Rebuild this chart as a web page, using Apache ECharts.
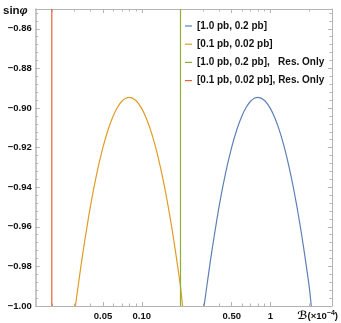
<!DOCTYPE html>
<html>
<head>
<meta charset="utf-8">
<script src="https://cdn.jsdelivr.net/npm/echarts@6/dist/echarts.min.js"></script>
<style>
  html, body { margin: 0; padding: 0; background: #fff; }
  #chart { width: 341px; height: 323px; }
</style>
</head>
<body>
<div id="chart"></div>
<script>
  // axis ranges (x is a log axis, drawn on log10 values)
  const xMin = 0.015, xMax = 3;
  const yMin = -1.0, yMax = -0.85;
  const xLabelValues = [0.05, 0.1, 0.5, 1];
  const xLabelTexts = ['0.05', '0.10', '0.50', '1'];
  const xMinorValues = [0.02, 0.03, 0.04, 0.06, 0.07, 0.08, 0.09, 0.2, 0.3, 0.4, 0.6, 0.7, 0.8, 0.9, 2, 3];

  const seriesNames = ['[1.0 pb, 0.2 pb]', '[0.1 pb, 0.02 pb]', '[1.0 pb, 0.2 pb],   Res. Only', '[0.1 pb, 0.02 pb], Res. Only'];
  const colors = ['#5E81B5', '#E19C24', '#8FB032', '#EB6235'];

  // [1.0 pb, 0.2 pb]
  const blueB = [0.305, 0.33, 0.35, 0.4, 0.45, 0.5, 0.55, 0.6, 0.65, 0.7, 0.75, 0.8, 0.9, 1.0, 1.1, 1.2, 1.3, 1.4, 1.5, 1.6, 1.7, 1.8, 1.9, 2.0, 2.075];
  const blueS = [-1.000, -0.984, -0.9725, -0.9493, -0.9323, -0.9198, -0.9106, -0.9040, -0.8995, -0.8966, -0.8951, -0.8946, -0.8962, -0.9003, -0.9062, -0.9133, -0.9214, -0.9303, -0.9396, -0.9493, -0.9593, -0.9695, -0.9799, -0.9902, -1.000];
  // [0.1 pb, 0.02 pb]
  const orangeB = [0.0305, 0.033, 0.035, 0.04, 0.045, 0.05, 0.055, 0.06, 0.065, 0.07, 0.075, 0.08, 0.09, 0.10, 0.11, 0.12, 0.13, 0.14, 0.15, 0.16, 0.17, 0.18, 0.19, 0.20, 0.2075];
  const orangeS = [-1.000, -0.984, -0.9725, -0.9493, -0.9323, -0.9198, -0.9106, -0.9040, -0.8995, -0.8966, -0.8951, -0.8946, -0.8962, -0.9003, -0.9062, -0.9133, -0.9214, -0.9303, -0.9396, -0.9493, -0.9593, -0.9695, -0.9799, -0.9902, -1.000];
  // Res. Only bounds are vertical lines
  const resOnlyB = [0.2, 0.02];

  const lg = v => Math.log10(v);
  const toPairs = (bs, ss) => bs.map((b, i) => [lg(b), ss[i]]);
  const vline = b => [[lg(b), yMin], [lg(b), yMax]];

  const frameColor = '#b4b4b4';
  const labelFont = { color: '#111', fontSize: 9.5, fontWeight: 'bold', fontFamily: 'Liberation Sans' };

  function xAxisBase(pos) {
    return {
      type: 'value', position: pos, min: lg(xMin), max: lg(xMax),
      axisLine: { show: false, onZero: false }, axisLabel: { show: false }, splitLine: { show: false },
      axisTick: { show: false }
    };
  }
  function yAxisBase(pos, interval) {
    return {
      type: 'value', position: pos, min: yMin, max: yMax, interval: interval,
      axisLine: { show: false, onZero: false }, axisLabel: { show: false }, splitLine: { show: false },
      axisTick: { show: false }
    };
  }

  const chart = echarts.init(document.getElementById('chart'));
  const option = {
    animation: false,
    color: colors,
    grid: { left: 35, right: 8.5, top: 9, bottom: 17 },
    legend: {
      orient: 'vertical', left: 185, top: 20, padding: 0,
      itemWidth: 7, itemHeight: 1.2, itemGap: 6.2, icon: 'rect',
      textStyle: { color: '#111', fontSize: 10, fontWeight: 'bold', fontFamily: 'Liberation Sans', lineHeight: 12 },
      data: seriesNames
    },
    xAxis: [
      Object.assign(xAxisBase('bottom'), {
        axisLine: { show: true, onZero: false, lineStyle: { color: frameColor } },
        axisTick: { show: true, inside: true, length: 4, customValues: xLabelValues.map(lg), lineStyle: { color: frameColor } },
        axisLabel: Object.assign({
          show: true, margin: 5, customValues: xLabelValues.map(lg),
          formatter: v => {
            let best = 0;
            xLabelValues.forEach((t, i) => { if (Math.abs(lg(t) - v) < Math.abs(lg(xLabelValues[best]) - v)) best = i; });
            return xLabelTexts[best];
          }
        }, labelFont),
        name: '{s|ℬ}(×10{sup|−4})',
        nameLocation: 'end', nameGap: -34.5,
        nameTextStyle: {
          align: 'left', verticalAlign: 'top', padding: [4, 0, 0, 0],
          color: '#111', fontSize: 9.5, fontWeight: 'bold', fontFamily: 'Liberation Sans',
          rich: {
            s: { fontSize: 11, fontFamily: 'DejaVu Sans', color: '#111', fontWeight: 'bold' },
            sup: { fontSize: 7, verticalAlign: 'top', padding: [0, 0, 5, 0], color: '#111', fontWeight: 'bold', fontFamily: 'Liberation Sans' }
          }
        }
      }),
      Object.assign(xAxisBase('bottom'), {
        axisTick: { show: true, inside: true, length: 2.5, customValues: xMinorValues.map(lg), lineStyle: { color: frameColor } }
      }),
      Object.assign(xAxisBase('top'), {
        axisLine: { show: true, onZero: false, lineStyle: { color: frameColor } },
        axisTick: { show: true, inside: true, length: 4, customValues: xLabelValues.map(lg), lineStyle: { color: frameColor } }
      }),
      Object.assign(xAxisBase('top'), {
        axisTick: { show: true, inside: true, length: 2.5, customValues: xMinorValues.map(lg), lineStyle: { color: frameColor } }
      })
    ],
    yAxis: [
      Object.assign(yAxisBase('left', 0.02), {
        axisLine: { show: true, onZero: false, lineStyle: { color: frameColor, width: 1.5 } },
        axisTick: { show: true, inside: true, length: 4, lineStyle: { color: frameColor } },
        axisLabel: Object.assign({
          show: true, margin: 4, showMaxLabel: false,
          formatter: v => (v < 0 ? '−' : '') + Math.abs(v).toFixed(2)
        }, labelFont),
        name: '{a|sin}{b|φ}',
        nameLocation: 'end', nameGap: -2,
        nameTextStyle: {
          align: 'right', verticalAlign: 'middle', padding: [0, 8, 0, 0],
          rich: {
            a: { fontSize: 11.5, fontWeight: 'bold', color: '#111', fontFamily: 'Liberation Sans' },
            b: { fontSize: 11.5, fontWeight: 'bold', fontStyle: 'italic', color: '#111', fontFamily: 'Liberation Sans' }
          }
        }
      }),
      Object.assign(yAxisBase('left', 0.004), {
        axisTick: { show: true, inside: true, length: 2.5, lineStyle: { color: frameColor } }
      }),
      Object.assign(yAxisBase('right', 0.02), {
        axisLine: { show: true, onZero: false, lineStyle: { color: frameColor } },
        axisTick: { show: true, inside: true, length: 4, lineStyle: { color: frameColor } }
      }),
      Object.assign(yAxisBase('right', 0.004), {
        axisTick: { show: true, inside: true, length: 2.5, lineStyle: { color: frameColor } }
      })
    ],
    series: [
      { name: seriesNames[0], type: 'line', data: toPairs(blueB, blueS), smooth: 0.3, symbol: 'none', lineStyle: { width: 1.2 } },
      { name: seriesNames[1], type: 'line', data: toPairs(orangeB, orangeS), smooth: 0.3, symbol: 'none', lineStyle: { width: 1.2 } },
      { name: seriesNames[2], type: 'line', data: vline(resOnlyB[0]), symbol: 'none', lineStyle: { width: 1.2 } },
      { name: seriesNames[3], type: 'line', data: vline(resOnlyB[1]), symbol: 'none', lineStyle: { width: 1.2 } }
    ]
  };
  chart.setOption(option);
</script>
</body>
</html>
